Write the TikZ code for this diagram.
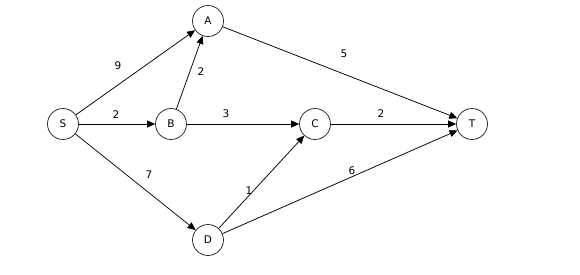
\documentclass[tikz,border=0pt]{standalone}
\usepackage{fontspec}
\setmainfont{DejaVu Sans}
\usetikzlibrary{arrows.meta}
\begin{document}
\begin{tikzpicture}[x=1pt,y=-1pt,
  vert/.style={circle,draw=black!85,line width=0.75pt,minimum size=31pt,inner sep=0pt,font=\fontsize{10.5}{12}\selectfont},
  edge/.style={line width=0.75pt,-{Triangle[length=8pt,width=7pt]}},
  wt/.style={font=\fontsize{10.5}{12}\selectfont,inner sep=0pt}]
\useasboundingbox (0,0) rectangle (580,274);
\node[vert] (S) at (63,124) {S};
\node[vert] (A) at (208,21) {A};
\node[vert] (B) at (171,124) {B};
\node[vert] (C) at (315,124) {C};
\node[vert] (T) at (472,124) {T};
\node[vert] (D) at (208,240) {D};
\draw[edge] (S) -- (A);
\draw[edge] (S) -- (B);
\draw[edge] (S) -- (D);
\draw[edge] (B) -- (A);
\draw[edge] (B) -- (C);
\draw[edge] (A) -- (T);
\draw[edge] (C) -- (T);
\draw[edge] (D) -- (C);
\draw[edge] (D) -- (T);
\node[wt] (w1) at (118,66) {9};
\node[wt] (w2) at (116,115) {2};
\node[wt] (w3) at (201,72) {2};
\node[wt] (w4) at (226,114) {3};
\node[wt] (w5) at (344,54) {5};
\node[wt] (w6) at (381,114) {2};
\node[wt] (w7) at (149,175) {7};
\node[wt] (w8) at (249,191) {1};
\node[wt] (w9) at (352,171) {6};
\end{tikzpicture}
\end{document}
